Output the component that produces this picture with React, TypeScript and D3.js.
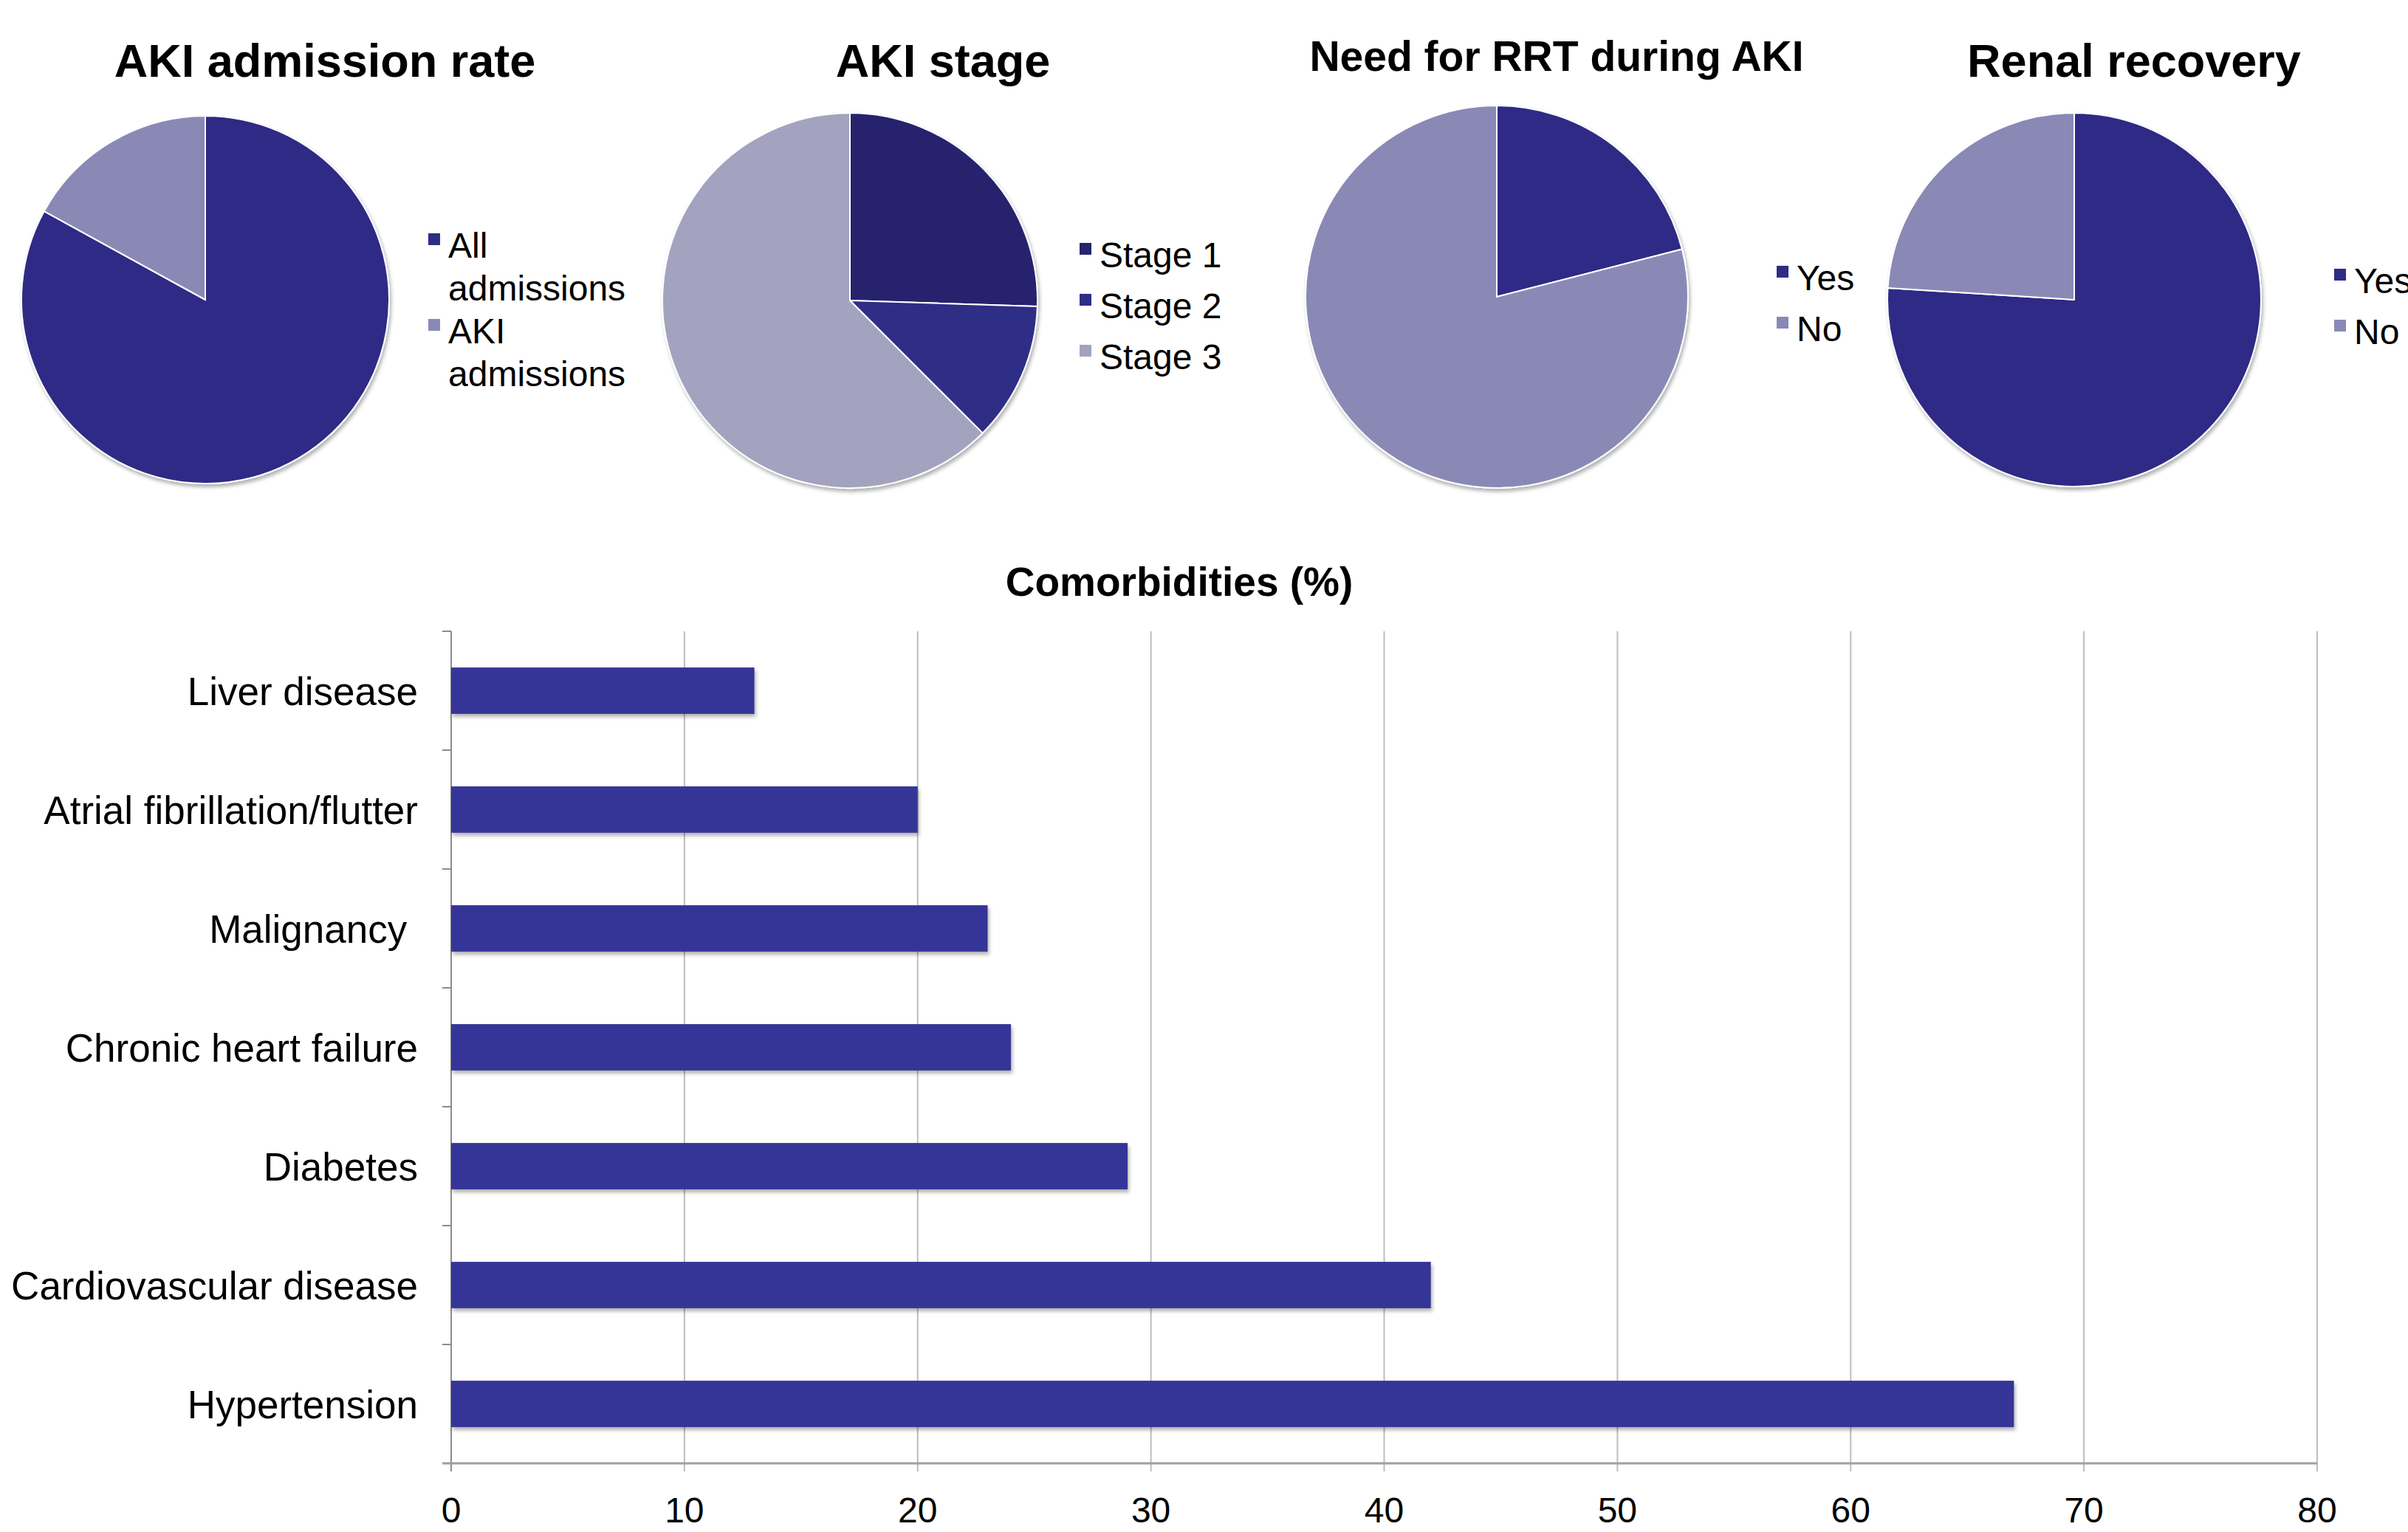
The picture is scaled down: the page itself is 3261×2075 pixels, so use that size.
import React, { useEffect } from "react";
import * as d3 from "d3";

// pie data
const admissionLabels = ["All admissions", "AKI admissions"];
const admissionValues = [83, 17];
const stageLabels = ["Stage 1", "Stage 2", "Stage 3"];
const stageValues = [25.5, 12, 62.5];
const rrtLabels = ["Yes", "No"];
const rrtValues = [21, 79];
const recoveryLabels = ["Yes", "No"];
const recoveryValues = [76, 24];

// bar data
const comorbidities = [
  "Liver disease",
  "Atrial fibrillation/flutter",
  "Malignancy ",
  "Chronic heart failure",
  "Diabetes",
  "Cardiovascular disease",
  "Hypertension",
];
const comorbidityValues = [13, 20, 23, 24, 29, 42, 67];
const xTicks = [0, 10, 20, 30, 40, 50, 60, 70, 80];

const W = 3261;
const H = 2075;
const FONT = "'Liberation Sans', Arial, Helvetica, sans-serif";
const DARK = "#2e2c85";
const LIGHT = "#8a89b6";

const pies = [
  {
    title: "AKI admission rate", titleX: 440, titleY: 104, titleSize: 63,
    labels: admissionLabels, values: admissionValues, colors: [DARK, LIGHT],
    cx: 278, cy: 406, r: 249,
    legX: 580, legY: 349, legStep: 58, wrap: true,
  },
  {
    title: "AKI stage", titleX: 1277, titleY: 104, titleSize: 63,
    labels: stageLabels, values: stageValues, colors: ["#25246e", "#2e2d87", "#a3a3bf"],
    cx: 1151, cy: 407, r: 254,
    legX: 1462, legY: 362, legStep: 69, wrap: false,
  },
  {
    title: "Need for RRT during AKI", titleX: 2108, titleY: 96, titleSize: 57,
    labels: rrtLabels, values: rrtValues, colors: [DARK, LIGHT],
    cx: 2027, cy: 402, r: 259,
    legX: 2406, legY: 393, legStep: 69, wrap: false,
  },
  {
    title: "Renal recovery", titleX: 2890, titleY: 104, titleSize: 63,
    labels: recoveryLabels, values: recoveryValues, colors: [DARK, LIGHT],
    cx: 2809, cy: 406, r: 253,
    legX: 3161, legY: 397, legStep: 69, wrap: false,
  },
];

function Pie({ p }) {
  const arcs = d3.pie().sort(null).value((d) => d)(p.values);
  const arc = d3.arc().innerRadius(0).outerRadius(p.r);
  let line = 0;
  return (
    <g>
      <text x={p.titleX} y={p.titleY} textAnchor="middle" fontFamily={FONT}
        fontWeight="bold" fontSize={p.titleSize} fill="#000">{p.title}</text>
      <g transform={`translate(${p.cx},${p.cy})`} filter="url(#shadow)">
        {arcs.map((a, i) => (
          <path key={i} d={arc(a)} fill={p.colors[i]} stroke="#fff" strokeWidth={2} />
        ))}
      </g>
      {p.labels.map((lab, i) => {
        const lines = p.wrap ? lab.split(" ") : [lab];
        const y0 = p.legY + line * p.legStep;
        line += lines.length;
        return (
          <g key={i}>
            <rect x={p.legX} y={y0 - 33} width={16} height={16} fill={p.colors[i]} />
            <text x={p.legX + 27} y={y0} fontFamily={FONT} fontSize={48} fill="#000">
              {lines.map((t, j) => (
                <tspan key={j} x={p.legX + 27} y={y0 + j * p.legStep}>{t}</tspan>
              ))}
            </text>
          </g>
        );
      })}
    </g>
  );
}

function Bars() {
  const x = d3.scaleLinear().domain([0, 80]).range([611, 3138]);
  const y = d3.scaleBand().domain(comorbidities).range([855, 1982]).paddingInner(0.61).paddingOuter(0.305);
  const band = d3.scaleBand().domain(comorbidities).range([855, 1982]);
  const bounds = [...comorbidities.map((c) => band(c)), 1982];
  return (
    <g>
      <text x={1597} y={807} textAnchor="middle" fontFamily={FONT} fontWeight="bold"
        fontSize={55} fill="#000">Comorbidities (%)</text>
      {xTicks.map((t) => (
        <line key={t} x1={x(t)} x2={x(t)} y1={855} y2={1993}
          stroke={t === 0 ? "#8c8c8c" : "#bdbdbd"} strokeWidth={2} />
      ))}
      {bounds.map((b, i) => (
        <line key={i} x1={599} x2={611} y1={b} y2={b} stroke="#8c8c8c" strokeWidth={2} />
      ))}
      <line x1={599} x2={x(80)} y1={1982} y2={1982} stroke="#a0a0a0" strokeWidth={3} />
      <g filter="url(#shadow)">
        {comorbidities.map((c, i) => (
          <rect key={c} x={x(0)} y={y(c)} width={x(comorbidityValues[i]) - x(0)}
            height={y.bandwidth()} fill="#353497" />
        ))}
      </g>
      {comorbidities.map((c) => (
        <text key={c} x={566} y={band(c) + band.bandwidth() / 2 + 19} textAnchor="end"
          fontFamily={FONT} fontSize={53} fill="#000" style={{ whiteSpace: "pre" }}>{c}</text>
      ))}
      {xTicks.map((t) => (
        <text key={t} x={x(t)} y={2062} textAnchor="middle" fontFamily={FONT}
          fontSize={48} fill="#000">{t}</text>
      ))}
    </g>
  );
}

export default function App() {
  useEffect(() => {
    document.body.style.margin = "0";
  }, []);
  return (
    <svg width={W} height={H} style={{ display: "block", background: "#fff" }}>
      <defs>
        <filter id="shadow" x="-5%" y="-5%" width="115%" height="120%">
          <feDropShadow dx={2} dy={4} stdDeviation={2.5} floodColor="#000" floodOpacity={0.3} />
        </filter>
      </defs>
      <rect width={W} height={H} fill="#fff" />
      {pies.map((p) => (
        <Pie key={p.title} p={p} />
      ))}
      <Bars />
    </svg>
  );
}
